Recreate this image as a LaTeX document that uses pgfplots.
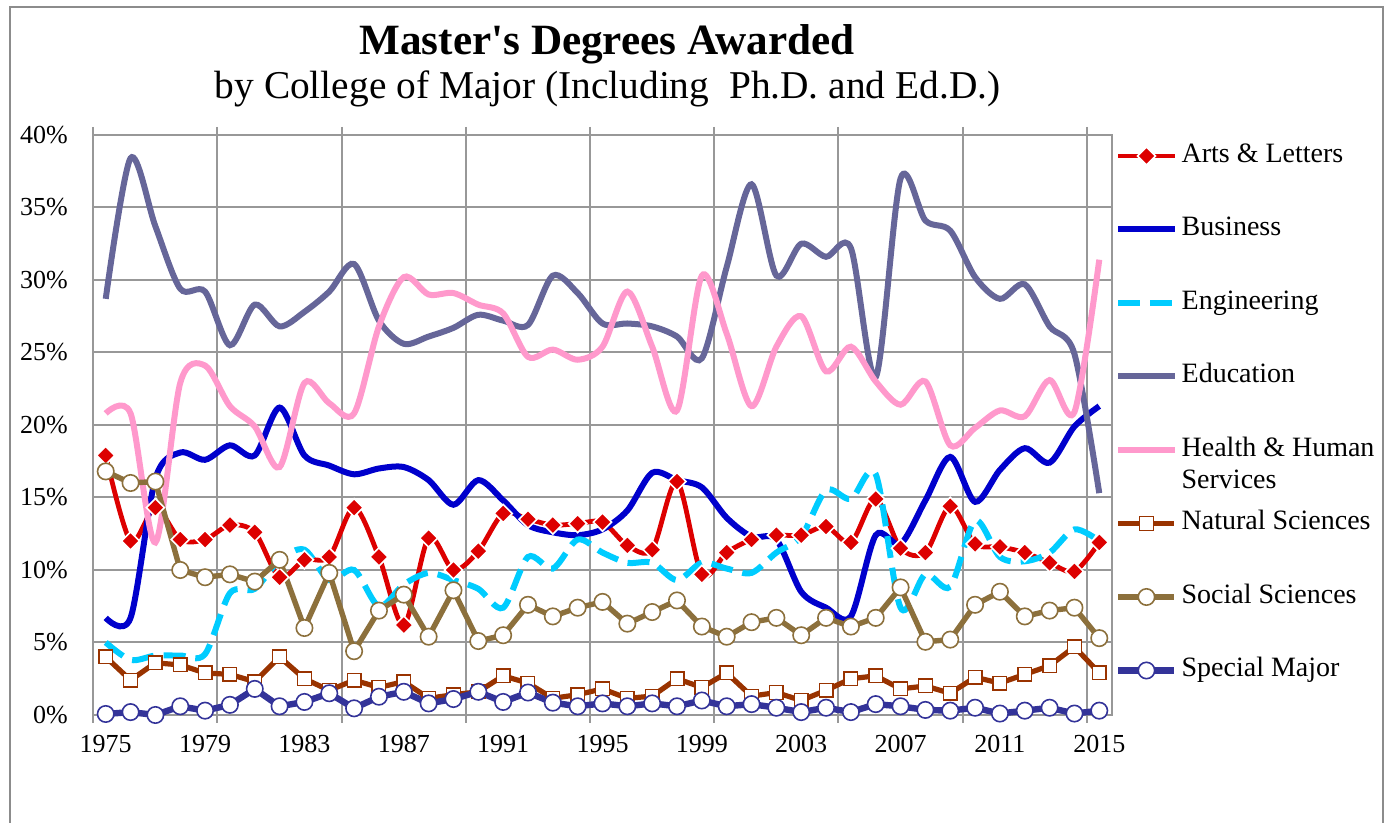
\documentclass[border=0pt]{standalone}
\usepackage{fontspec}
\setmainfont{Liberation Serif}
\usepackage{pgfplots}
\usepackage{pgfplotstable}
\pgfplotsset{compat=1.18}
\definecolor{artsred}{RGB}{221,0,0}
\definecolor{busblue}{RGB}{0,0,204}
\definecolor{engcyan}{RGB}{0,204,255}
\definecolor{edugray}{RGB}{102,102,153}
\definecolor{hhspink}{RGB}{255,153,204}
\definecolor{natbrown}{RGB}{153,51,0}
\definecolor{socbrown}{RGB}{140,112,60}
\definecolor{specblue}{RGB}{51,51,153}
\definecolor{gridgray}{RGB}{152,152,152}
\definecolor{framegray}{RGB}{140,140,140}

\pgfplotstableread{
year arts bus eng edu hhs nat soc spe
1975 17.9 6.7 5.0 28.7 20.8 4.0 16.8 0.07
1976 12.0 6.7 3.8 38.4 20.8 2.4 16.0 0.2
1977 14.3 16.3 4.1 33.7 11.9 3.6 16.1 0.0
1978 12.1 18.1 4.1 29.4 22.9 3.45 10.0 0.6
1979 12.1 17.6 4.2 29.2 24.1 2.9 9.5 0.3
1980 13.1 18.6 8.4 25.5 21.3 2.8 9.7 0.7
1981 12.6 17.9 8.7 28.3 19.9 2.3 9.2 1.8
1982 9.5 21.2 10.7 26.8 17.1 4.0 10.7 0.6
1983 10.7 17.9 11.4 27.8 22.9 2.5 6.0 0.9
1984 10.9 17.2 9.3 29.2 21.5 1.7 9.8 1.5
1985 14.3 16.6 10.0 31.1 20.8 2.4 4.4 0.46
1986 10.9 17.0 7.5 27.2 26.8 1.9 7.2 1.26
1987 6.2 17.1 9.0 25.6 30.2 2.3 8.3 1.6
1988 12.2 16.2 9.8 26.1 29.0 1.15 5.4 0.8
1989 10.0 14.5 9.3 26.7 29.1 1.4 8.6 1.1
1990 11.3 16.2 8.7 27.6 28.3 1.6 5.1 1.6
1991 13.9 14.8 7.4 27.2 27.7 2.7 5.5 0.9
1992 13.5 13.1 10.9 26.9 24.7 2.2 7.6 1.55
1993 13.1 12.6 10.1 30.3 25.2 1.15 6.8 0.85
1994 13.2 12.4 12.1 29.1 24.5 1.4 7.4 0.6
1995 13.3 12.8 11.2 27.0 25.4 1.8 7.8 0.8
1996 11.7 14.1 10.5 27.0 29.2 1.15 6.3 0.6
1997 11.4 16.7 10.5 26.8 25.4 1.3 7.1 0.8
1998 16.1 16.2 9.3 26.1 21.0 2.5 7.9 0.6
1999 9.7 15.7 10.5 24.6 30.3 1.9 6.1 1.0
2000 11.2 13.6 10.1 30.9 26.3 2.9 5.4 0.6
2001 12.1 12.3 9.8 36.6 21.3 1.3 6.4 0.75
2002 12.4 12.1 11.2 30.3 25.4 1.55 6.7 0.5
2003 12.4 8.5 12.3 32.5 27.5 1.0 5.5 0.2
2004 13.0 7.4 15.5 31.6 23.7 1.7 6.7 0.5
2005 11.9 6.8 14.9 32.2 25.4 2.5 6.1 0.2
2006 14.9 12.4 16.6 23.3 23.0 2.7 6.7 0.75
2007 11.5 11.8 7.4 37.0 21.4 1.8 8.8 0.6
2008 11.2 14.8 9.7 34.1 23.0 2.0 5.05 0.35
2009 14.4 17.8 8.85 33.4 18.6 1.5 5.2 0.3
2010 11.8 14.7 13.4 30.2 19.8 2.6 7.6 0.5
2011 11.6 16.9 10.9 28.7 21.0 2.2 8.5 0.1
2012 11.2 18.4 10.6 29.7 20.6 2.8 6.8 0.3
2013 10.5 17.4 11.2 26.8 23.1 3.4 7.2 0.5
2014 9.9 19.9 12.8 24.9 20.9 4.7 7.4 0.1
2015 11.9 21.3 12.0 15.3 31.4 2.9 5.3 0.3
}\datatable

\begin{document}
\begin{tikzpicture}[x=1pt,y=1pt]
\useasboundingbox (0,0) rectangle (696,411.5);
\draw[framegray, line width=1pt] (5,-2) -- (5,408) -- (691.5,408) -- (691.5,-2);
\node[anchor=base, font=\fontsize{21.6}{24}\selectfont\bfseries] at (303.5,384) {Master\textquotesingle s Degrees Awarded};
\node[anchor=base, font=\fontsize{19.7}{22}\selectfont] at (303.8,362.3) {by College of Major (Including\ \ Ph.D. and Ed.D.)};
\begin{axis}[
  at={(46.65pt,54pt)}, anchor=south west,
  scale only axis, width=509.2pt, height=290pt,
  xmin=1974.5, xmax=2015.5, ymin=0, ymax=40,
  clip=false,
  xtick={1975,1979,...,2015},
  ytick={0,5,...,40},
  yticklabel={\pgfmathprintnumber{\tick}\%},
  /pgf/number format/1000 sep={},
  /pgf/number format/assume math mode=true,
  tick label style={font=\fontsize{13}{15}\selectfont},
  xticklabel style={inner sep=0pt, yshift=-10pt},
  yticklabel style={inner sep=0pt, xshift=-12.5pt},
  axis line style={draw=gridgray, line width=1pt},
  ymajorgrids,
  major grid style={draw=gridgray, line width=1pt},
  major tick length=0pt,
  tick align=outside,
  tick style={draw=gridgray, line width=1pt},
  extra x ticks={1974.5,1979.5,...,2014.5},
  extra x tick labels={},
  extra x tick style={grid=major, major tick length=4pt},
  legend cell align=left,
  legend style={at={(1.0035,0.9858)}, anchor=north west, draw=none, fill=none,
    inner sep=0pt, outer sep=0pt, row sep=24pt, column sep=2pt,
    font=\fontsize{14}{16}\selectfont,
    nodes={inner sep=0pt, text height=9.5pt, text depth=3.25pt}},
  legend image code/.code={\draw[mark repeat=2,mark phase=2] plot coordinates {(0pt,0pt)(14pt,0pt)(28pt,0pt)};},
]
\addplot[artsred, line width=2.4pt, smooth, mark=square*, mark size=3.2pt,
  mark options={rotate=45, fill=artsred, draw=white, line width=0.8pt, solid}]
  table[x=year, y=arts] {\datatable};
\addlegendentry{Arts \& Letters}
\addplot[busblue, line width=3pt, smooth, no markers] table[x=year, y=bus] {\datatable};
\addlegendentry{Business}
\addplot[engcyan, line width=3pt, smooth, no markers, dash pattern=on 11pt off 5pt] table[x=year, y=eng] {\datatable};
\addlegendentry{Engineering}
\addplot[edugray, line width=3pt, smooth, no markers] table[x=year, y=edu] {\datatable};
\addlegendentry{Education}
\addplot[hhspink, line width=3pt, smooth, no markers] table[x=year, y=hhs] {\datatable};
\addlegendentry{\smash{\begin{tabular}[t]{@{}l@{}}Health \& Human\\Services\end{tabular}}}
\addplot[natbrown, line width=2.6pt, mark=square*, mark size=3.4pt,
  mark options={fill=white, draw=natbrown, line width=0.7pt}]
  table[x=year, y=nat] {\datatable};
\addlegendentry{Natural Sciences}
\addplot[socbrown, line width=2.7pt, mark=*, mark size=4.1pt,
  mark options={fill=white, draw=socbrown, line width=0.8pt}]
  table[x=year, y=soc] {\datatable};
\addlegendentry{Social Sciences}
\addplot[specblue, line width=3.2pt, mark=*, mark size=4.1pt,
  mark options={fill=white, draw=specblue, line width=0.8pt}]
  table[x=year, y=spe] {\datatable};
\addlegendentry{Special Major}
\end{axis}
\end{tikzpicture}
\end{document}
